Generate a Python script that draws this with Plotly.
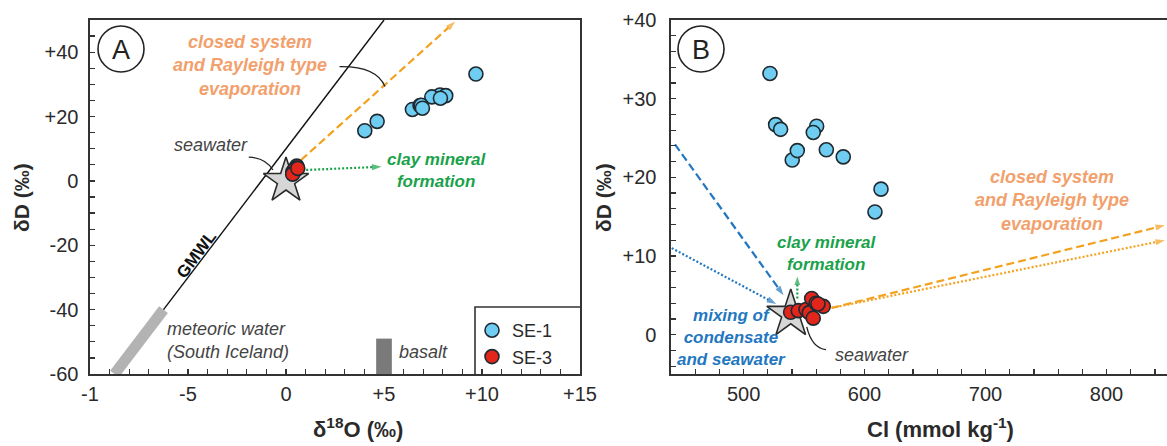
import plotly.graph_objects as go

# ---------------- data ----------------
# SE-1 samples
se1_d18o = [9.69, 7.86, 7.44, 6.45, 6.84, 8.15, 7.88, 6.90, 6.96, 4.65, 4.02]
se1_dD = [33.2, 26.7, 26.1, 22.2, 23.4, 26.5, 25.7, 23.5, 22.6, 18.5, 15.6]
se1_cl = [521.8, 526.5, 530.6, 540.2, 544.4, 560.4, 557.6, 568.4, 582.4, 613.6, 608.6]

# SE-3 samples
se3_d18o = [0.35, 0.40, 0.45, 0.38, 0.55, 0.50, 0.45, 0.34, 0.60]
se3_dD = [2.85, 3.05, 3.2, 2.8, 4.6, 4.0, 3.6, 2.1, 3.9]
se3_cl = [538.9, 545.2, 551.6, 554.3, 556.3, 559.9, 565.9, 557.6, 561.5]

# seawater reference
sw_d18o = [0.0]
sw_dD = [0.0]
sw_cl = [539.0]
sw_dD_b = [2.6]

# GMWL and meteoric water (South Iceland)
gmwl_x = [-6.25, 5.0]
gmwl_y = [-40.0, 50.0]
meteoric_x = [-8.75, -6.25]
meteoric_y = [-60.0, -40.0]
basalt_d18o = [4.6, 5.4]
basalt_dD = [-60.0, -49.0]

# process arrows (start, end)
a_evap_x = [0.77, 8.63]
a_evap_y = [6.5, 49.5]
a_clay_x = [1.03, 4.87]
a_clay_y = [3.4, 4.4]

b_mix_dash_x = [443.3, 533.0]
b_mix_dash_y = [24.2, 5.0]
b_mix_dot_x = [440.6, 527.0]
b_mix_dot_y = [11.0, 3.9]
b_clay_x = [544.4, 544.4]
b_clay_y = [4.6, 7.4]
b_evap_dash_x = [572.8, 848.3]
b_evap_dash_y = [3.4, 13.9]
b_evap_dot_x = [572.8, 848.3]
b_evap_dot_y = [3.4, 12.0]

# ticks
a_xticks = [-10, -5, 0, 5, 10, 15]
a_xtext = ["-1", "-5", "0", "+5", "+10", "+15"]
a_yticks = [-60, -40, -20, 0, 20, 40]
a_ytext = ["-60", "-40", "-20", "0", "+20", "+40"]
b_xticks = [500, 600, 700, 800]
b_xtext = ["500", "600", "700", "800"]
b_yticks = [0, 10, 20, 30, 40]
b_ytext = ["0", "+10", "+20", "+30", "+40"]

# ---------------- styling ----------------
FONT = "Liberation Sans, Arial, sans-serif"
W, H = 1167, 446
BLUE = "#6FCDF2"
RED = "#E2261C"
EDGE = "#1e2a30"
ORANGE = "#F4A11F"
ORANGE_TXT = "#F2A06C"
GREEN = "#19A24A"
BLUE_ARROW = "#2277C0"
AXC = "#333333"
GRAYTXT = "#444444"

fig = go.Figure()


def add_arrow(xs, ys, color, dash, xa, ya, width=2.2, size=10):
    fig.add_trace(go.Scatter(
        x=xs, y=ys, xaxis=xa, yaxis=ya, mode="lines+markers", cliponaxis=False,
        line=dict(color=color, width=width, dash=dash),
        marker=dict(symbol="arrow", angleref="previous", size=[0, size],
                    color=color, line=dict(width=0)),
        showlegend=False, hoverinfo="skip"))


# ---------- panel A ----------
fig.add_trace(go.Scatter(x=meteoric_x, y=meteoric_y, mode="lines", xaxis="x", yaxis="y",
                         line=dict(color="#b3b3b3", width=11), showlegend=False, hoverinfo="skip"))
fig.add_trace(go.Scatter(x=gmwl_x, y=gmwl_y, mode="lines", xaxis="x", yaxis="y",
                         line=dict(color="#111111", width=1.4), showlegend=False, hoverinfo="skip"))
add_arrow(a_evap_x, a_evap_y, ORANGE, "8px,4px", "x", "y")
add_arrow(a_clay_x, a_clay_y, GREEN, "2px,2px", "x", "y")
fig.add_trace(go.Scatter(x=sw_d18o, y=sw_dD, mode="markers", xaxis="x", yaxis="y",
                         marker=dict(symbol="star", size=34, color="#d6d6d6",
                                     line=dict(color="#2b2b2b", width=1.6)),
                         showlegend=False, hoverinfo="skip"))
fig.add_trace(go.Scatter(x=se1_d18o, y=se1_dD, mode="markers", xaxis="x", yaxis="y", name="SE-1",
                         marker=dict(size=14, color=BLUE, line=dict(color=EDGE, width=1.6))))
fig.add_trace(go.Scatter(x=se3_d18o, y=se3_dD, mode="markers", xaxis="x", yaxis="y", name="SE-3",
                         marker=dict(size=14, color=RED, line=dict(color=EDGE, width=1.6))))

# ---------- panel B ----------
add_arrow(b_mix_dash_x, b_mix_dash_y, BLUE_ARROW, "8px,4px", "x2", "y2")
add_arrow(b_mix_dot_x, b_mix_dot_y, BLUE_ARROW, "2px,2px", "x2", "y2")
add_arrow(b_evap_dash_x, b_evap_dash_y, ORANGE, "8px,4px", "x2", "y2")
add_arrow(b_evap_dot_x, b_evap_dot_y, ORANGE, "2px,2px", "x2", "y2")
fig.add_trace(go.Scatter(x=sw_cl, y=sw_dD_b, mode="markers", xaxis="x2", yaxis="y2",
                         marker=dict(symbol="star", size=36, color="#d6d6d6",
                                     line=dict(color="#2b2b2b", width=1.6)),
                         showlegend=False, hoverinfo="skip"))
add_arrow(b_clay_x, b_clay_y, GREEN, "2px,2px", "x2", "y2", size=9)
fig.add_trace(go.Scatter(x=se1_cl, y=se1_dD, mode="markers", xaxis="x2", yaxis="y2",
                         marker=dict(size=14, color=BLUE, line=dict(color=EDGE, width=1.6)),
                         showlegend=False))
fig.add_trace(go.Scatter(x=se3_cl, y=se3_dD, mode="markers", xaxis="x2", yaxis="y2",
                         marker=dict(size=14, color=RED, line=dict(color=EDGE, width=1.6)),
                         showlegend=False))

ydom = [72 / H, 426 / H]
axis_common = dict(showgrid=False, zeroline=False, showline=True, linecolor=AXC, linewidth=1.6,
                   ticks="inside", ticklen=5, tickwidth=1.3, tickcolor=AXC,
                   tickfont=dict(family=FONT, size=20, color="#2a2a2a"), fixedrange=True)

fig.update_layout(
    width=W, height=H, margin=dict(l=0, r=0, t=0, b=0, autoexpand=False),
    paper_bgcolor="white", plot_bgcolor="white",
    font=dict(family=FONT),
    xaxis=dict(domain=[90 / W, 580 / W], range=[-10, 15], tickvals=a_xticks, ticktext=a_xtext,
               mirror=True, anchor="y", ticklabelstandoff=1,
               minor=dict(dtick=1, ticks="inside", ticklen=5, tickcolor=AXC, tickwidth=1.2),
               **axis_common),
    yaxis=dict(domain=ydom, range=[-60, 50], tickvals=a_yticks, ticktext=a_ytext,
               mirror=True, anchor="x", ticklabelstandoff=6,
               minor=dict(dtick=5, ticks="inside", ticklen=5, tickcolor=AXC, tickwidth=1.2),
               **axis_common),
    xaxis2=dict(domain=[671 / W, 1.0], range=[440, 850], tickvals=b_xticks, ticktext=b_xtext,
                mirror=True, anchor="y2", ticklabelstandoff=1,
                minor=dict(dtick=20, ticks="inside", ticklen=5, tickcolor=AXC, tickwidth=1.2),
                **axis_common),
    yaxis2=dict(domain=ydom, range=[-5, 40], tickvals=b_yticks, ticktext=b_ytext,
                anchor="x2", ticklabelstandoff=9,
                minor=dict(dtick=2, ticks="inside", ticklen=5, tickcolor=AXC, tickwidth=1.2),
                **axis_common),
    legend=dict(x=472 / W, y=(H - 312) / H, xanchor="left", yanchor="top",
                bgcolor="rgba(0,0,0,0)", borderwidth=0,
                font=dict(family=FONT, size=18, color="#2a2a2a"), tracegroupgap=0),
    showlegend=True,
)

shapes = []
# panel label circles
for cx, cy in [(121, 49), (701, 49)]:
    r = 23
    shapes.append(dict(type="circle", xref="paper", yref="paper",
                       x0=(cx - r) / W, x1=(cx + r) / W, y0=(H - cy - r) / H, y1=(H - cy + r) / H,
                       line=dict(color="#222222", width=1.6), fillcolor="white"))
# legend box
shapes.append(dict(type="path", xref="paper", yref="paper",
                   path=f"M {475 / W} {(H - 374) / H} L {475 / W} {(H - 307) / H} L {580 / W} {(H - 307) / H}",
                   line=dict(color=AXC, width=1.6)))
# basalt bar
shapes.append(dict(type="rect", xref="x", yref="y", x0=basalt_d18o[0], x1=basalt_d18o[1],
                   y0=basalt_dD[0], y1=basalt_dD[1], fillcolor="#7a7a7a", line=dict(width=0)))
# pointer curves
shapes.append(dict(type="path", xref="x", yref="y", path="M -1.9 7.4 Q -1.03 7.1 -0.67 3.4",
                   line=dict(color="#222222", width=1.3)))
shapes.append(dict(type="path", xref="x", yref="y", path="M 2.73 35.5 Q 4.62 35.7 5.05 29.3",
                   line=dict(color="#222222", width=1.3)))
shapes.append(dict(type="path", xref="x2", yref="y2", path="M 552.2 1.0 Q 556.5 -1.7 568.1 -1.9",
                   line=dict(color="#222222", width=1.3)))
fig.update_layout(shapes=shapes)

ann = []


def T(text, x, y, xref, yref, color, size, bold=False, italic=False, xanchor="center",
      align="center", angle=0):
    ann.append(dict(text=text, x=x, y=y, xref=xref, yref=yref, showarrow=False,
                    xanchor=xanchor, yanchor="middle", align=align, textangle=angle,
                    font=dict(family=FONT, size=size, color=color,
                              weight="bold" if bold else "normal",
                              style="italic" if italic else "normal")))


T("A", 121 / W, (H - 50) / H, "paper", "paper", "#222222", 27)
T("B", 701 / W, (H - 50) / H, "paper", "paper", "#222222", 27)
# panel A texts
T("closed system<br>and Rayleigh type<br>evaporation", -1.85, 35.9, "x", "y", ORANGE_TXT, 18, True, True)
T("seawater", -3.82, 11.2, "x", "y", GRAYTXT, 18, False, True)
T("clay mineral<br>formation", 7.69, 3.2, "x", "y", GREEN, 17, True, True)
T("GMWL", -4.55, -23.0, "x", "y", "#111111", 17, True, False, angle=-53)
T("meteoric water<br>(South Iceland)", -6.15, -49.7, "x", "y", GRAYTXT, 18, False, True,
  xanchor="left", align="left")
T("basalt", 5.64, -53.2, "x", "y", GRAYTXT, 18, False, True, xanchor="left")
# panel B texts
T("closed system<br>and Rayleigh type<br>evaporation", 754.7, 17.1, "x2", "y2", ORANGE_TXT, 18, True, True)
T("clay mineral<br>formation", 568.7, 10.3, "x2", "y2", GREEN, 17, True, True)
T("mixing of<br>condensate<br>and seawater", 489.6, -0.3, "x2", "y2", BLUE_ARROW, 17, True, True)
T("seawater", 573.9, -2.6, "x2", "y2", GRAYTXT, 18, False, True, xanchor="left")
# axis titles
T("δD (‰)", 22 / W, (H - 198) / H, "paper", "paper", "#2a2a2a", 21, True, angle=-90)
T("δD (‰)", 604 / W, (H - 198) / H, "paper", "paper", "#2a2a2a", 21, True, angle=-90)
T("δ<sup>18</sup>O (‰)", 358 / W, (H - 428) / H, "paper", "paper", "#2a2a2a", 22, True)
T("Cl (mmol kg<sup>-1</sup>)", 940 / W, (H - 428) / H, "paper", "paper", "#2a2a2a", 22, True)

fig.update_layout(annotations=ann)

fig.write_html("out.html", config={"displayModeBar": False, "staticPlot": True},
               post_script="document.body.style.margin='0';document.body.style.overflow='hidden';")
